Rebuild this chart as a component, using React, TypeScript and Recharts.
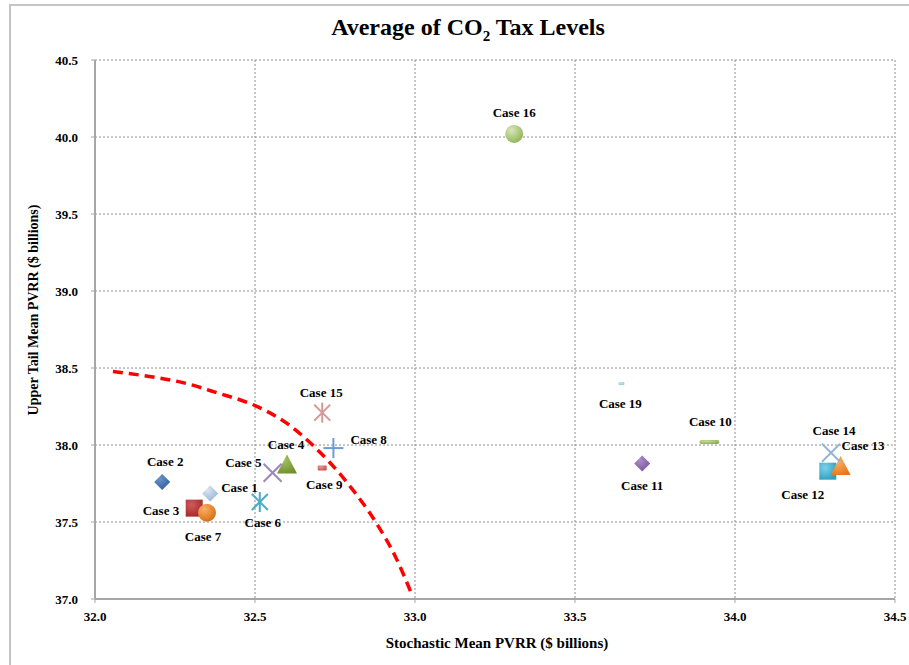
import React from 'react';
import { ScatterChart, Scatter, XAxis, YAxis, CartesianGrid } from 'recharts';

const caseNames = [
  'Case 1', 'Case 2', 'Case 3', 'Case 4', 'Case 5', 'Case 6', 'Case 7', 'Case 8', 'Case 9',
  'Case 10', 'Case 11', 'Case 12', 'Case 13', 'Case 14', 'Case 15', 'Case 16', 'Case 19',
];
const stochasticMean = [
  32.36, 32.21, 32.31, 32.6, 32.555, 32.515, 32.35, 32.745, 32.71,
  33.92, 33.71, 34.29, 34.33, 34.3, 32.71, 33.31, 33.645,
];
const upperTailMean = [
  37.685, 37.76, 37.59, 37.86, 37.82, 37.63, 37.56, 37.98, 37.85,
  38.02, 37.88, 37.83, 37.85, 37.95, 38.21, 40.02, 38.4,
];

const frontierX = [32.056, 32.17, 32.275, 32.38, 32.5, 32.6, 32.68, 32.79, 32.88, 32.94, 32.99];
const frontierY = [38.477, 38.445, 38.405, 38.34, 38.256, 38.14, 38.0, 37.75, 37.49, 37.27, 37.03];

const xTicks = [32, 32.5, 33, 33.5, 34, 34.5];
const yTicks = [37, 37.5, 38, 38.5, 39, 39.5, 40, 40.5];

const cases = caseNames.map((name, i) => ({ name, x: stochasticMean[i], y: upperTailMean[i] }));
const frontier = frontierX.map((x, i) => ({ x, y: frontierY[i] }));

type Style = { kind: string; color: string; light: string; dx: number; dy: number; anchor: 'start' | 'middle' | 'end' };

// marker look + where each label sits relative to its point
const styles: Record<string, Style> = {
  'Case 1': { kind: 'diamond', color: '#95b3d7', light: '#dbe5f1', dx: 11, dy: -6, anchor: 'start' },
  'Case 2': { kind: 'diamond', color: '#2f5f9e', light: '#6c93c8', dx: 3, dy: -21, anchor: 'middle' },
  'Case 3': { kind: 'square', color: '#a2282b', light: '#d05a5a', dx: -15, dy: 2, anchor: 'end' },
  'Case 4': { kind: 'triangle', color: '#6f8f2e', light: '#a2c35f', dx: -1, dy: -22, anchor: 'middle' },
  'Case 5': { kind: 'x', color: '#9b86bd', light: '#9b86bd', dx: -11, dy: -10, anchor: 'end' },
  'Case 6': { kind: 'asterisk', color: '#4bacc6', light: '#4bacc6', dx: 3, dy: 20, anchor: 'middle' },
  'Case 7': { kind: 'circle', color: '#d86d0f', light: '#f9b066', dx: -4, dy: 24, anchor: 'middle' },
  'Case 8': { kind: 'plus', color: '#6f9bd4', light: '#6f9bd4', dx: 17, dy: -9, anchor: 'start' },
  'Case 9': { kind: 'dash', color: '#c0504d', light: '#e49a98', dx: 2, dy: 16, anchor: 'middle' },
  'Case 10': { kind: 'longdash', color: '#8db14a', light: '#c6dc9a', dx: 1, dy: -20, anchor: 'middle' },
  'Case 11': { kind: 'diamond', color: '#7b569f', light: '#a98cc9', dx: 0, dy: 22, anchor: 'middle' },
  'Case 12': { kind: 'square', color: '#2aa1c2', light: '#7fd0e6', dx: -25, dy: 23, anchor: 'middle' },
  'Case 13': { kind: 'triangle', color: '#e8761a', light: '#f9b066', dx: 1, dy: -23, anchor: 'start' },
  'Case 14': { kind: 'x', color: '#95b3d7', light: '#95b3d7', dx: 3, dy: -22, anchor: 'middle' },
  'Case 15': { kind: 'asterisk', color: '#d99694', light: '#d99694', dx: -1, dy: -20, anchor: 'middle' },
  'Case 16': { kind: 'circle', color: '#8fb456', light: '#d7e7b8', dx: 0, dy: -21, anchor: 'middle' },
  'Case 19': { kind: 'tinydash', color: '#93cddd', light: '#c9e6ee', dx: -1, dy: 20, anchor: 'middle' },
};

const serif = '"Liberation Serif", "Times New Roman", serif';
const labelCss = { fontFamily: serif, fontWeight: 'bold' as const, fontSize: 13 };

const CaseMarker = (props: any) => {
  const { cx, cy, payload } = props;
  if (cx == null || cy == null) return null;
  const s = styles[payload.name];
  const gid = 'grad-' + payload.name.replace(' ', '');
  let mark: React.ReactNode = null;
  const fill = `url(#${gid})`;
  switch (s.kind) {
    case 'diamond':
      mark = <polygon points={`${cx},${cy - 8} ${cx + 8},${cy} ${cx},${cy + 8} ${cx - 8},${cy}`} fill={fill} />;
      break;
    case 'square':
      mark = <rect x={cx - 8.5} y={cy - 8.5} width={17} height={17} fill={fill} />;
      break;
    case 'circle':
      mark = <circle cx={cx} cy={cy} r={9} fill={fill} />;
      break;
    case 'triangle':
      mark = <polygon points={`${cx},${cy - 12} ${cx + 10},${cy + 7} ${cx - 10},${cy + 7}`} fill={fill} />;
      break;
    case 'x':
      mark = (
        <g stroke={s.color} strokeWidth={2}>
          <line x1={cx - 9} y1={cy - 9} x2={cx + 9} y2={cy + 9} />
          <line x1={cx - 9} y1={cy + 9} x2={cx + 9} y2={cy - 9} />
        </g>
      );
      break;
    case 'asterisk':
      mark = (
        <g stroke={s.color} strokeWidth={2}>
          <line x1={cx} y1={cy - 10} x2={cx} y2={cy + 10} />
          <line x1={cx - 8} y1={cy - 8} x2={cx + 8} y2={cy + 8} />
          <line x1={cx - 8} y1={cy + 8} x2={cx + 8} y2={cy - 8} />
        </g>
      );
      break;
    case 'plus':
      mark = (
        <g stroke={s.color} strokeWidth={2}>
          <line x1={cx} y1={cy - 10} x2={cx} y2={cy + 10} />
          <line x1={cx - 10} y1={cy} x2={cx + 10} y2={cy} />
        </g>
      );
      break;
    case 'dash':
      mark = <rect x={cx - 4.5} y={cy - 2.5} width={9} height={5} rx={1} fill={fill} />;
      break;
    case 'longdash':
      mark = <rect x={cx - 10} y={cy - 2} width={20} height={4} rx={2} fill={fill} />;
      break;
    case 'tinydash':
      mark = <rect x={cx - 3} y={cy - 1.5} width={6} height={3} rx={1} fill={fill} />;
      break;
  }
  return (
    <g>
      <defs>
        <radialGradient id={gid} cx="35%" cy="30%" r="75%">
          <stop offset="0%" stopColor={s.light} />
          <stop offset="100%" stopColor={s.color} />
        </radialGradient>
      </defs>
      {mark}
      <text
        x={cx + s.dx}
        y={cy + s.dy}
        dy="0.35em"
        textAnchor={s.anchor}
        style={labelCss}
        fill="#000"
      >
        {payload.name}
      </text>
    </g>
  );
};

const tickStyle = { style: labelCss, fill: '#000' } as any;

export default function App() {
  return (
    <div style={{ position: 'absolute', left: 0, top: 0, width: 909, height: 665, background: '#fff', overflow: 'hidden' }}>
      <div style={{ position: 'absolute', left: 9, top: 4, width: 920, height: 700, border: '2px solid #c4c4c4' }} />
      <div
        style={{
          position: 'absolute', left: 0, width: 936, top: 14, textAlign: 'center',
          fontFamily: serif, fontWeight: 'bold', fontSize: 24, color: '#000',
        }}
      >
        Average of CO<sub style={{ fontSize: 15 }}>2</sub> Tax Levels
      </div>
      <div
        style={{
          position: 'absolute', left: 297, width: 400, top: 635, textAlign: 'center',
          fontFamily: serif, fontWeight: 'bold', fontSize: 15, color: '#000',
        }}
      >
        Stochastic Mean PVRR ($ billions)
      </div>
      <div
        style={{
          position: 'absolute', left: 34 - 150, width: 300, top: 312 - 10, textAlign: 'center',
          transform: 'rotate(-90deg)', fontFamily: serif, fontWeight: 'bold', fontSize: 14, color: '#000',
        }}
      >
        Upper Tail Mean PVRR ($ billions)
      </div>
      <div style={{ position: 'absolute', left: 0, top: 0 }}>
        <ScatterChart width={909} height={665} margin={{ top: 60, right: 14, bottom: 0, left: 0 }}>
          <CartesianGrid stroke="#8c8c8c" strokeDasharray="2 2" strokeWidth={1} />
          <XAxis
            type="number"
            dataKey="x"
            domain={[32, 34.5]}
            ticks={xTicks}
            height={66}
            tickFormatter={(v: number) => v.toFixed(1)}
            tick={tickStyle}
            tickSize={4}
            tickMargin={9}
            stroke="#a6a6a6"
            axisLine={{ stroke: '#a6a6a6', strokeWidth: 2 }}
            allowDataOverflow
          />
          <YAxis
            type="number"
            dataKey="y"
            domain={[37, 40.5]}
            ticks={yTicks}
            width={95}
            tickFormatter={(v: number) => v.toFixed(1)}
            tick={tickStyle}
            tickSize={4}
            tickMargin={13}
            stroke="#a6a6a6"
            axisLine={{ stroke: '#a6a6a6', strokeWidth: 2 }}
            allowDataOverflow
          />
          <Scatter
            data={frontier}
            line={{ stroke: '#ff0000', strokeWidth: 3.5, strokeDasharray: '10 6' }}
            lineJointType="monotoneX"
            shape={() => null}
            isAnimationActive={false}
          />
          <Scatter data={cases} shape={CaseMarker} isAnimationActive={false} />
        </ScatterChart>
      </div>
    </div>
  );
}
